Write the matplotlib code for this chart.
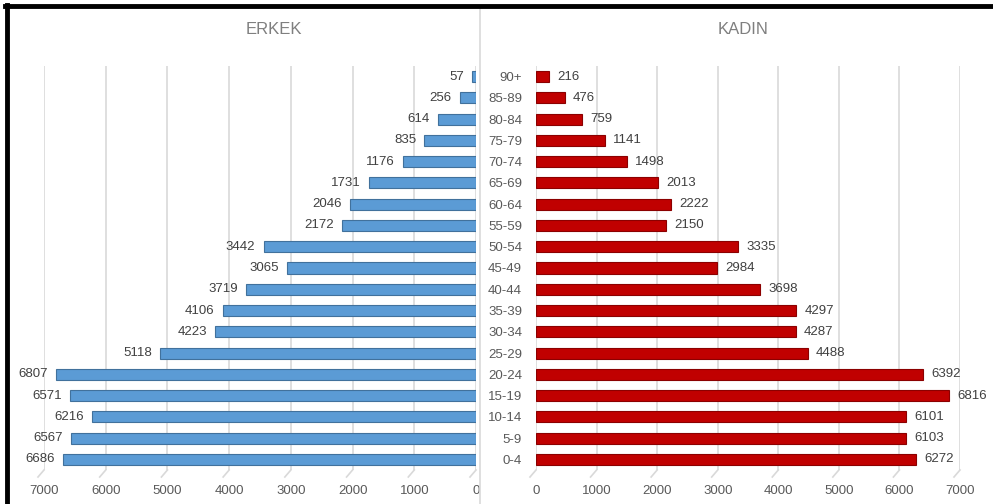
import matplotlib
matplotlib.use("Agg")
import matplotlib.pyplot as plt
from matplotlib.lines import Line2D
import matplotlib.transforms as mtransforms

plt.rcParams['font.family'] = ['Liberation Sans Narrow', 'Liberation Sans', 'DejaVu Sans']

age_groups = ["0-4", "5-9", "10-14", "15-19", "20-24", "25-29", "30-34", "35-39",
              "40-44", "45-49", "50-54", "55-59", "60-64", "65-69", "70-74",
              "75-79", "80-84", "85-89", "90+"]
erkek = [6686, 6567, 6216, 6571, 6807, 5118, 4223, 4106, 3719, 3065, 3442,
         2172, 2046, 1731, 1176, 835, 614, 256, 57]
kadin = [6272, 6103, 6101, 6816, 6392, 4488, 4287, 4297, 3698, 2984, 3335,
         2150, 2222, 2013, 1498, 1141, 759, 476, 216]
x_ticks = [0, 1000, 2000, 3000, 4000, 5000, 6000, 7000]
titles = ["ERKEK", "KADIN"]

W, H = 993, 504
fig = plt.figure(figsize=(W / 100, H / 100), dpi=100)

text_col = "#595959"
grid_col = "#D9D9D9"

def ax_rect(x0, x1, y0, y1):
    return [x0 / W, 1 - y1 / H, (x1 - x0) / W, (y1 - y0) / H]

axL = fig.add_axes(ax_rect(44, 476, 66, 470))
axR = fig.add_axes(ax_rect(536, 960, 66, 470))

y = list(range(len(age_groups)))

for ax, vals, col, ecol in [(axL, erkek, "#5B9BD5", "#41719C"),
                            (axR, kadin, "#C00000", "#8B0000")]:
    ax.barh(y, vals, height=0.52, color=col, edgecolor=ecol, linewidth=0.8, zorder=3)
    ax.set_xlim(0, 7000)
    ax.set_ylim(-0.5, len(age_groups) - 0.5)
    ax.set_xticks(x_ticks)
    ax.set_xticklabels([str(t) for t in x_ticks])
    ax.grid(axis="x", color=grid_col, linewidth=1.2, zorder=0)
    for s in ax.spines.values():
        s.set_visible(False)
    ax.tick_params(axis="x", length=0, pad=11, labelsize=9.5, labelcolor=text_col)
    ax.tick_params(axis="y", length=0)
    ax.set_facecolor("none")
    # perspective floor ticks below each gridline
    trans = mtransforms.blended_transform_factory(ax.transData, ax.transAxes)
    for t in x_ticks:
        base = (t, 0)
        off = mtransforms.offset_copy(trans, fig=fig, x=-6, y=-7, units="dots")
        ax.add_line(Line2D([t, t], [0, 0], transform=trans, color=grid_col))
        ln = Line2D([t], [0], transform=trans)
        p0 = trans.transform(base)
        seg = Line2D([p0[0], p0[0] - 6], [p0[1], p0[1] - 7], transform=None,
                     color=grid_col, linewidth=1.2, clip_on=False)
        fig.add_artist(seg)

axL.invert_xaxis()
axL.set_yticks([])
axR.set_yticks(y)
axR.set_yticklabels(age_groups)
axR.tick_params(axis="y", pad=10, labelsize=9.5, labelcolor=text_col)

for yi, v in zip(y, erkek):
    axL.annotate(str(v), (v, yi), xytext=(-6, 0), textcoords="offset points",
                 ha="right", va="center", fontsize=9.5, color="#404040")
for yi, v in zip(y, kadin):
    axR.annotate(str(v), (v, yi), xytext=(6, 0), textcoords="offset points",
                 ha="left", va="center", fontsize=9.5, color="#404040")

fig.text(274 / W, 1 - 30 / H, titles[0], ha="center", va="center",
         fontsize=12, color="#7F7F7F")
fig.text(743 / W, 1 - 30 / H, titles[1], ha="center", va="center",
         fontsize=12, color="#7F7F7F")

# divider and frame
fig.add_artist(Line2D([480 / W, 480 / W], [0, 1 - 8 / H], color=grid_col, linewidth=1.2))
fig.add_artist(Line2D([5 / W, 1], [1 - 6 / H, 1 - 6 / H], color="black", linewidth=3.5))
fig.add_artist(Line2D([7 / W, 7 / W], [0, 1 - 5 / H], color="black", linewidth=3.5))

fig.savefig("out.png", dpi=100)
